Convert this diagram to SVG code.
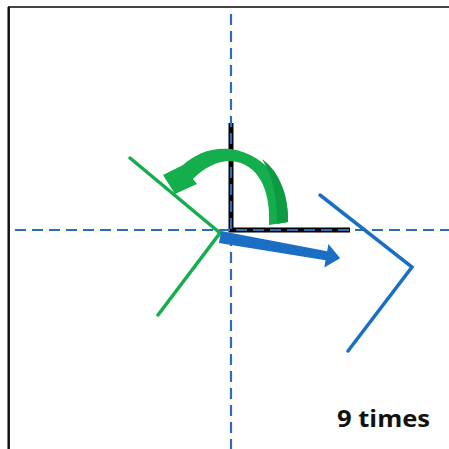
<svg xmlns="http://www.w3.org/2000/svg" width="449" height="449" viewBox="0 0 449 449">
<style>
.axis{stroke:#2E6DB5;stroke-width:2.2;stroke-dasharray:11 6;fill:none}
.green{stroke:#14AE4C;stroke-width:3.5;fill:none;stroke-linecap:round}
.blue{stroke:#1A6FC4;stroke-width:3.5;fill:none;stroke-linecap:round;stroke-linejoin:miter}
.label{font-family:"Open Sans","Liberation Sans",Arial,sans-serif;font-weight:bold;font-size:24px;fill:#111}
</style>
<rect width="449" height="449" fill="#fff"/>
<g id="frame">
<line x1="8" y1="7" x2="449" y2="7" stroke="#444" stroke-width="2"/>
<line x1="8.7" y1="7" x2="8.7" y2="449" stroke="#111" stroke-width="2.5"/>
</g>
<g id="reference-L">
<polyline points="231,123 231,230 350,230" fill="none" stroke="#000" stroke-width="5"/>
</g>
<g id="connectors">
<line class="axis" x1="231" y1="14" x2="231" y2="449"/>
<line class="axis" x1="15" y1="230" x2="449" y2="230"/>
</g>
<g id="green-shape">
<polyline class="green" points="130,158 220,233 158,315"/>
</g>
<g id="blue-shape">
<polyline class="blue" points="320,195 412,267 348,351"/>
</g>
<g id="blue-arrow">
<polygon transform="translate(220,237) rotate(10)" points="0,-6 108,-4.5 108,-12 122,0 108,12 108,4.5 0,6" fill="#1A6FC4"/>
</g>
<g id="green-arrow">
<path d="M288,222 C289,189 271,156 231,149 C211,147 195,154 183,165 L163,175 L175,194 L197,184 L193,179 C204,168 216,161 231,161 C257,163 271,188 269,225 Z" fill="#14AE4C"/>
<path d="M288,222 C289,195 279,171 262,159 C272,175 277,195 277,224 Z" fill="#0E9A42"/>
</g>
<g id="caption">
<text class="label" x="337" y="427" textLength="93" lengthAdjust="spacingAndGlyphs">9 times</text>
</g>
</svg>
